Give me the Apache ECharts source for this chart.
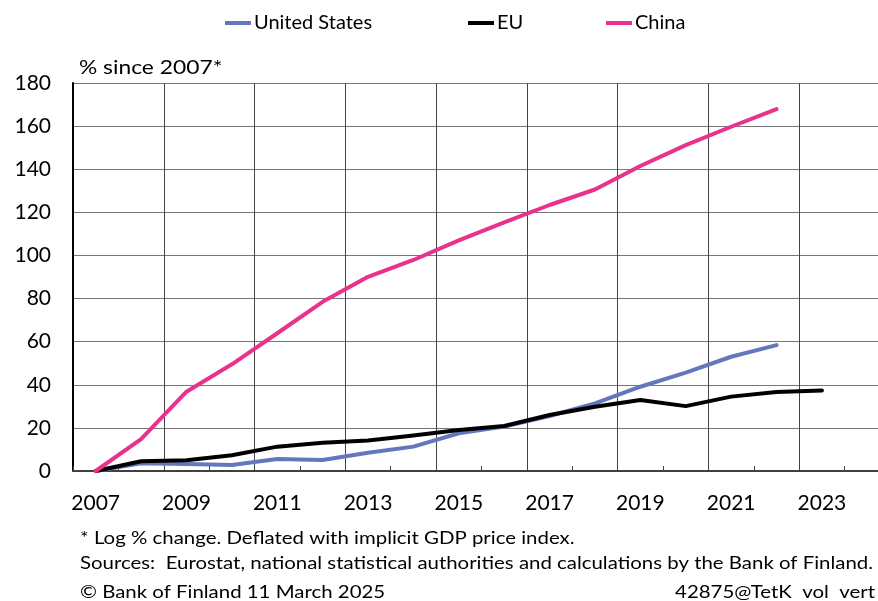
<!DOCTYPE html>
<html>
<head>
<meta charset="utf-8">
<title>GDP growth since 2007</title>
<script src="https://cdn.jsdelivr.net/npm/echarts@6/dist/echarts.min.js"></script>
<style>
  html, body { margin: 0; padding: 0; background: #fff; }
  #chart { width: 878px; height: 601px; }
</style>
</head>
<body>
<div id="chart"></div>
<script>
// vuodet (kategoriat), 2024 tyhjä jotta akseli jatkuu oikealle
const years = ['2007', '2008', '2009', '2010', '2011', '2012', '2013', '2014', '2015',
  '2016', '2017', '2018', '2019', '2020', '2021', '2022', '2023', '2024']
const usValues = [0, 3.6, 3.2, 2.8, 5.6, 5.1, 8.5, 11.3, 17.5, 20.6, 25.5, 31.4, 39.1, 45.6, 53.0, 58.4]
const euValues = [0, 4.5, 5.0, 7.3, 11.3, 13.1, 14.2, 16.5, 19.0, 20.9, 26.0, 29.8, 32.9, 30.1, 34.5, 36.6, 37.4]
const chinaValues = [0, 14.8, 36.8, 49.5, 63.9, 78.5, 90.1, 97.9, 107.0, 115.3, 123.4, 130.6, 141.5, 151.2, 159.7, 167.9]
const seriesNames = ['United States', 'EU', 'China']
const yTicks = { min: 0, max: 180, interval: 20 }

const font = 'Lato, "Noto Sans", sans-serif'
const colors = ['#6577BC', '#000000', '#E8328B']

const chart = echarts.init(document.getElementById('chart'), null, { renderer: 'canvas' })

const lineSeries = (name, data, i) => ({
  name: name,
  type: 'line',
  data: data,
  symbol: 'none',
  lineStyle: { width: 4, color: colors[i], cap: 'round', join: 'round' },
  itemStyle: { color: colors[i] },
  emphasis: { disabled: true },
  animation: false
})

// selitteet erikseen, jotta paikat osuvat
const legendAt = (name, left) => ({
  left: left,
  top: 8,
  itemWidth: 26,
  itemHeight: 4,
  icon: 'rect',
  selectedMode: false,
  textStyle: { fontFamily: font, fontSize: 20, color: '#000', padding: [0, 0, 0, -2] },
  data: [name]
})

// alaviitteet venytetään vaakasuunnassa kuten alkuperäisessä
const note = (text, x, y, scaleX, align) => ({
  type: 'text',
  x: x,
  y: y,
  scaleX: scaleX,
  style: { text: text, fontSize: 17, fontFamily: font, fill: '#000', align: align || 'left', verticalAlign: 'middle' }
})

const option = {
  color: colors,
  animation: false,
  textStyle: { fontFamily: font, color: '#000' },
  legend: [
    legendAt(seriesNames[0], 220),
    legendAt(seriesNames[1], 463),
    legendAt(seriesNames[2], 601)
  ],
  grid: {
    left: 73,
    top: 83,
    width: 817,
    bottom: 130,
    containLabel: false,
    outerBoundsMode: 'none'
  },
  xAxis: {
    type: 'category',
    data: years,
    boundaryGap: true,
    axisLine: { show: true, lineStyle: { color: '#404040', width: 2 } },
    axisTick: { show: true, inside: true, length: 5, interval: 0, lineStyle: { color: '#404040', width: 1 } },
    axisLabel: { interval: 1, margin: 22, fontSize: 21, color: '#000', fontFamily: font },
    splitLine: { show: true, interval: 1, lineStyle: { color: '#444', width: 1 } }
  },
  yAxis: {
    type: 'value',
    min: yTicks.min,
    max: yTicks.max,
    interval: yTicks.interval,
    axisLine: { show: true, lineStyle: { color: '#000', width: 2 } },
    axisTick: { show: false },
    axisLabel: { margin: 22, fontSize: 21, color: '#000', fontFamily: font },
    splitLine: { show: true, lineStyle: { color: '#777', width: 1 } }
  },
  graphic: [
    {
      type: 'text', x: 79, y: 68, scaleX: 1.14,
      style: { text: '% since 2007*', fontSize: 20, fontFamily: font, fill: '#000', verticalAlign: 'middle' }
    },
    note('* Log % change. Deflated with implicit GDP price index.', 80, 539, 1.2),
    note('Sources:  Eurostat, national statistical authorities and calculations by the Bank of Finland.', 80, 564, 1.2),
    note('\u00A9 Bank of Finland 11 March 2025', 80, 593, 1.2),
    note('42875@TetK  vol  vert', 875, 593, 1.2, 'right')
  ],
  series: [
    lineSeries(seriesNames[0], usValues, 0),
    lineSeries(seriesNames[1], euValues, 1),
    lineSeries(seriesNames[2], chinaValues, 2)
  ]
}
chart.setOption(option)
</script>
</body>
</html>
